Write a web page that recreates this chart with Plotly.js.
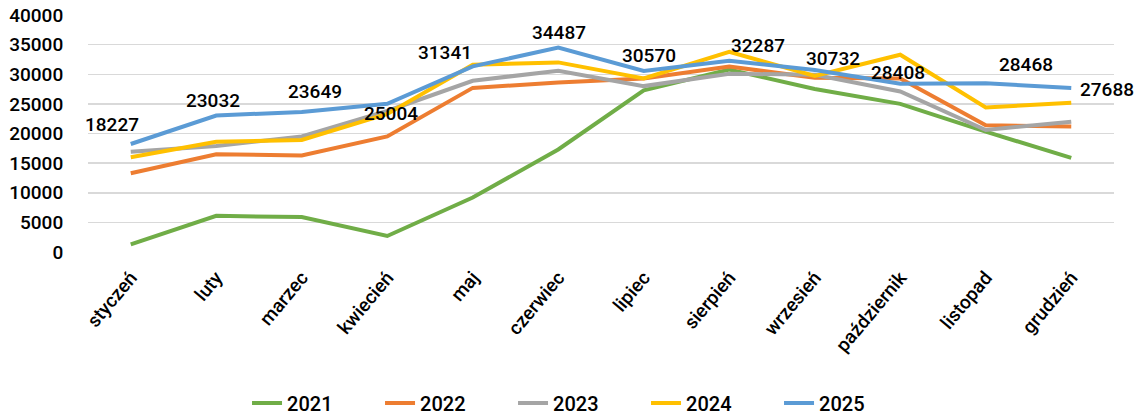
<!DOCTYPE html>
<html>
<head>
<meta charset="utf-8">
<script src="https://cdn.plot.ly/plotly-3.0.1.min.js"></script>
<style>html,body{margin:0;padding:0;background:#fff;}#chart{width:1144px;height:419px;}</style>
</head>
<body>
<div id="chart"></div>
<script>
const months = ["styczeń","luty","marzec","kwiecień","maj","czerwiec","lipiec","sierpień","wrzesień","październik","listopad","grudzień"];
const y2021 = [1300, 6100, 5900, 2700, 9200, 17300, 27300, 30800, 27500, 25000, 20300, 15900];
const y2022 = [13300, 16500, 16300, 19500, 27700, 28600, 29300, 31300, 29400, 29300, 21400, 21200];
const y2023 = [16900, 17900, 19500, 23800, 28900, 30600, 28000, 30100, 29900, 27100, 20600, 22000];
const y2024 = [16000, 18600, 18900, 23300, 31600, 32000, 29300, 33800, 29700, 33300, 24400, 25200];
const y2025 = [18227, 23032, 23649, 25004, 31341, 34487, 30570, 32287, 30732, 28408, 28468, 27688];
// label offsets (pixels) for the 2025 data labels
const labelDx = [-19, -3, 13, 4, -28, 1, 5, 29, 18, -2, 40, 36];
const labelDy = [20, 15, 20, -10, 14, 15, 15, 15, 11, 11, 19, -2];

const fontFam = "Roboto, 'DejaVu Sans', sans-serif";
function line(name, y, color) {
  return {x: months, y: y, name: name, type: "scatter", mode: "lines", cliponaxis: false,
    line: {color: color, width: 4}};
}
const traces = [
  line("2021", y2021, "#70AD47"),
  line("2022", y2022, "#ED7D31"),
  line("2023", y2023, "#A5A5A5"),
  line("2024", y2024, "#FFC000"),
  line("2025", y2025, "#5B9BD5")
];
const annotations = y2025.map((v, i) => ({
  x: months[i], y: v, xref: "x", yref: "y", text: String(v), showarrow: false,
  xanchor: "center", yanchor: "middle", xshift: labelDx[i], yshift: labelDy[i],
  font: {family: fontFam, size: 19, color: "#000", weight: 500}
}));
const layout = {
  width: 1144, height: 419,
  margin: {l: 88, r: 30, t: 15, b: 167},
  paper_bgcolor: "#fff", plot_bgcolor: "#fff",
  font: {family: fontFam, size: 18, color: "#000"},
  annotations: annotations,
  xaxis: {type: "category", range: [-0.5, 11.5], tickangle: -50, showgrid: false, automargin: false,
    zeroline: false, showline: false, ticks: "outside", ticklen: 6, tickcolor: "rgba(0,0,0,0)",
    tickfont: {family: fontFam, size: 19, color: "#000", weight: 500}},
  yaxis: {range: [0, 40000], dtick: 5000, tickformat: "d", showgrid: true, gridcolor: "#D9D9D9", gridwidth: 1.5,
    automargin: false, zeroline: false, showline: false, ticks: "outside", ticklen: 20, tickcolor: "rgba(0,0,0,0)",
    tickfont: {family: fontFam, size: 19, color: "#000", weight: 500}},
  showlegend: true,
  legend: {orientation: "h", x: 0.155, xanchor: "left", yref: "container", y: 0.038, yanchor: "middle",
    font: {family: fontFam, size: 20, color: "#000", weight: 500}, itemwidth: 30,
    entrywidth: 88, entrywidthmode: "pixels"}
};
Plotly.newPlot("chart", traces, layout, {displayModeBar: false, staticPlot: true});
</script>
</body>
</html>
